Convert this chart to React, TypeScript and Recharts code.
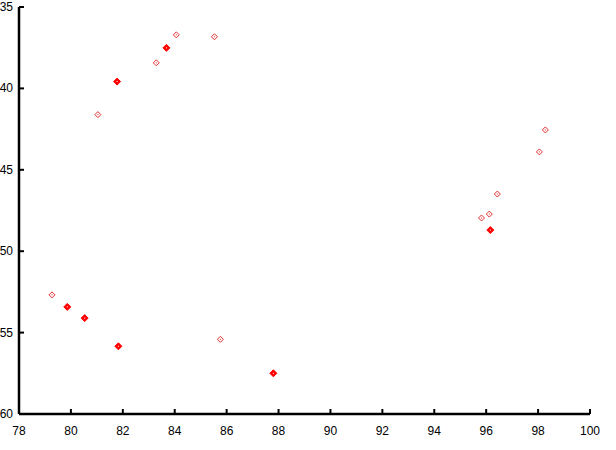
import React from "react";
import { ScatterChart, Scatter, XAxis, YAxis } from "recharts";

const xTicks = [78, 80, 82, 84, 86, 88, 90, 92, 94, 96, 98, 100];
const yTicks = [35, 40, 45, 50, 55, 60];

const seriesA = [
  { x: 79.27, y: 52.68 },
  { x: 85.76, y: 55.41 },
  { x: 81.04, y: 41.61 },
  { x: 83.29, y: 38.43 },
  { x: 84.06, y: 36.71 },
  { x: 85.53, y: 36.83 },
  { x: 98.28, y: 42.55 },
  { x: 98.05, y: 43.9 },
  { x: 96.43, y: 46.49 },
  { x: 96.12, y: 47.72 },
  { x: 95.82, y: 47.96 },
];

const seriesB = [
  { x: 79.86, y: 53.42 },
  { x: 80.53, y: 54.11 },
  { x: 81.83, y: 55.84 },
  { x: 87.8, y: 57.5 },
  { x: 81.78, y: 39.58 },
  { x: 83.68, y: 37.51 },
  { x: 96.16, y: 48.7 },
];

const FONT = "'Liberation Sans Narrow', 'Liberation Sans', sans-serif";

const BottomTick = (props: any) => {
  const { x, y, payload } = props;
  return (
    <g>
      <line x1={x} y1={y} x2={x} y2={y - 5} stroke="#000" strokeWidth={2} />
      <text x={x} y={y + 21} textAnchor="middle" fontSize={12} fontFamily={FONT} fill="#000">
        {payload.value}
      </text>
    </g>
  );
};

const TopTick = (props: any) => {
  const { x, y } = props;
  return <line x1={x} y1={y} x2={x} y2={y + 5} stroke="#000" strokeWidth={2} />;
};

const LeftTick = (props: any) => {
  const { x, y, payload } = props;
  return (
    <g>
      <line x1={x} y1={y} x2={x + 5} y2={y} stroke="#000" strokeWidth={2} />
      <text x={x - 6} y={y + 4} textAnchor="end" fontSize={12} fontFamily={FONT} fill="#000">
        {payload.value}
      </text>
    </g>
  );
};

const RightTick = (props: any) => {
  const { x, y } = props;
  return <line x1={x} y1={y} x2={x - 5} y2={y} stroke="#000" strokeWidth={2} />;
};

const OpenDiamond = (props: any) => {
  const { cx, cy } = props;
  const r = 3;
  return (
    <g>
      <polygon
        points={`${cx},${cy - r} ${cx + r},${cy} ${cx},${cy + r} ${cx - r},${cy}`}
        fill="#fff"
        stroke="#e03030"
        strokeWidth={1}
      />
      <rect x={cx - 0.5} y={cy - 0.5} width={1} height={1} fill="#e03030" />
    </g>
  );
};

const FilledDiamond = (props: any) => {
  const { cx, cy } = props;
  const r = 3.5;
  return (
    <g>
      <polygon
        points={`${cx},${cy - r} ${cx + r},${cy} ${cx},${cy + r} ${cx - r},${cy}`}
        fill="#ff0000"
        stroke="#ff0000"
        strokeWidth={1}
      />
      <rect x={cx - 0.5} y={cy - 0.5} width={1} height={1} fill="#fff" />
    </g>
  );
};

const axisLineStyle = { stroke: "#000", strokeWidth: 2.5 };

export default function App() {
  return (
    <div style={{ position: "absolute", left: 0, top: 0, background: "#fff" }}>
      <ScatterChart width={616} height={450} margin={{ top: 7, right: 26, bottom: 0, left: 0 }}>
        <XAxis
          xAxisId="b"
          type="number"
          dataKey="x"
          domain={[78, 100]}
          ticks={xTicks}
          orientation="bottom"
          height={36}
          tickSize={0}
          tickMargin={0}
          tickLine={false}
          axisLine={axisLineStyle}
          tick={<BottomTick />}
          interval={0}
        />
        <XAxis
          xAxisId="t"
          type="number"
          dataKey="x"
          domain={[78, 100]}
          ticks={xTicks}
          orientation="top"
          height={0}
          tickSize={0}
          tickMargin={0}
          tickLine={false}
          axisLine={axisLineStyle}
          tick={<TopTick />}
          interval={0}
        />
        <YAxis
          yAxisId="l"
          type="number"
          dataKey="y"
          domain={[35, 60]}
          ticks={yTicks}
          reversed
          orientation="left"
          width={19}
          tickSize={0}
          tickMargin={0}
          tickLine={false}
          axisLine={axisLineStyle}
          tick={<LeftTick />}
          interval={0}
        />
        <YAxis
          yAxisId="r"
          type="number"
          dataKey="y"
          domain={[35, 60]}
          ticks={yTicks}
          reversed
          orientation="right"
          width={0}
          tickSize={0}
          tickMargin={0}
          tickLine={false}
          axisLine={axisLineStyle}
          tick={<RightTick />}
          interval={0}
        />
        <Scatter xAxisId="b" yAxisId="l" data={seriesA} shape={<OpenDiamond />} isAnimationActive={false} />
        <Scatter xAxisId="b" yAxisId="l" data={seriesB} shape={<FilledDiamond />} isAnimationActive={false} />
      </ScatterChart>
    </div>
  );
}
